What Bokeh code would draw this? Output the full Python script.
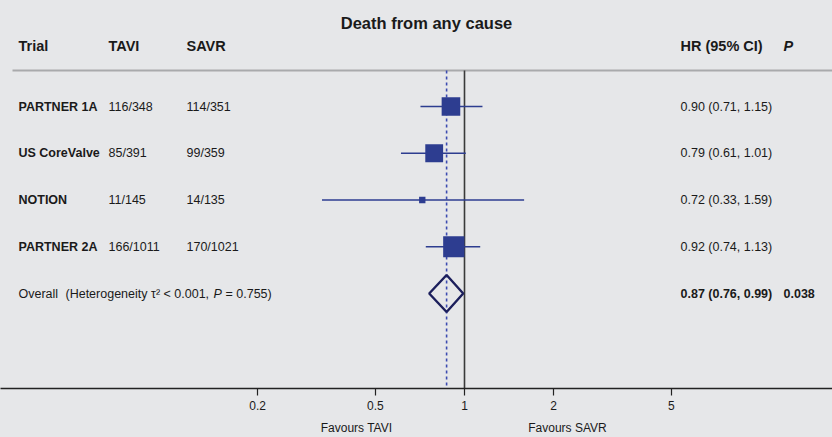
import math
from bokeh.plotting import figure
from bokeh.models import (Range1d, FixedTicker, LogAxis, Label, LabelSet,
                          ColumnDataSource)
from bokeh.core.properties import value
from bokeh.embed import file_html
from bokeh.resources import INLINE

# ---------------- data ----------------
title = "Death from any cause"
headers = ["Trial", "TAVI", "SAVR", "HR (95% CI)"]
p_header = "P"
trials = ["PARTNER 1A", "US CoreValve", "NOTION", "PARTNER 2A"]
tavi = ["116/348", "85/391", "11/145", "166/1011"]
savr = ["114/351", "99/359", "14/135", "170/1021"]
hr = [0.90, 0.79, 0.72, 0.92]
ci_lo = [0.71, 0.61, 0.33, 0.74]
ci_hi = [1.15, 1.01, 1.59, 1.13]
weights = [30.0, 27.5, 3.5, 39.0]          # % weight (square area)
overall_hr = 0.87
overall_lo = 0.76
overall_hi = 0.99
overall_p = "0.038"
het_tau = "τ² < 0.001"
het_p = "0.755"
tick_values = [0.2, 0.5, 1, 2, 5]
tick_labels = ["0.2", "0.5", "1", "2", "5"]
favours = ["Favours TAVI", "Favours SAVR"]

# ---------------- layout ----------------
W, H = 832, 437
FRAME_H = 388
NULL_PX = 464            # screen x of HR = 1
DECADE_PX = 296          # pixels per decade
ROW0_PX = 59.25          # frame y of row index 0
ROW_PX = 46.75           # row spacing


def px2x(px):
    return 10 ** ((px - NULL_PX) / DECADE_PX)


def py2y(py):
    return (py - ROW0_PX) / ROW_PX


BG = "#e6e7e9"
BLUE = "#2d3d90"
NAVY = "#1c1f5c"
TXT = "#1a1a1a"
FONT = "Liberation Sans"

p = figure(width=W, height=H, x_axis_type="log",
           x_range=Range1d(px2x(0), px2x(W)),
           y_range=Range1d(py2y(FRAME_H), py2y(0)),
           output_backend="svg", toolbar_location=None,
           min_border=0, min_border_bottom=H - FRAME_H,
           y_axis_location=None)
p.background_fill_color = BG
p.border_fill_color = BG
p.outline_line_color = None
p.xgrid.visible = False
p.ygrid.visible = False

rows = list(range(1, len(trials) + 1))
overall_row = len(trials) + 1
sep_y = py2y(70)

# separator under header
p.segment(x0=[px2x(12)], x1=[px2x(W)], y0=[sep_y], y1=[sep_y],
          line_color="#a9aaac", line_width=2)

# null line and overall dashed line
p.segment(x0=[1], x1=[1], y0=[sep_y], y1=[py2y(FRAME_H)],
          line_color="#3a3a3a", line_width=1.6)
p.segment(x0=[overall_hr], x1=[overall_hr], y0=[sep_y], y1=[py2y(FRAME_H)],
          line_color="#3b4bb0", line_width=1.6, line_dash="3 3")

# CIs and squares
p.segment(x0=ci_lo, x1=ci_hi, y0=rows, y1=rows, line_color=BLUE, line_width=1.6)
sizes = [3.4 * math.sqrt(w) for w in weights]
p.scatter(x=hr, y=rows, size=sizes, marker="square",
          fill_color=BLUE, line_color=None)

# overall diamond
dh = 18.5 / ROW_PX
p.patch(x=[overall_lo, overall_hr, overall_hi, overall_hr],
        y=[overall_row, overall_row - dh, overall_row, overall_row + dh],
        fill_alpha=0, line_color=NAVY, line_width=2.4)

# ---------------- texts ----------------
col_x = [18, 108, 186, 680]


def add_label(text, x, y, size, style="normal", align="left"):
    p.add_layout(Label(x=x, y=y, x_units="screen", y_units="data", text=text,
                       text_font=FONT, text_font_size=size,
                       text_font_style=style, text_color=TXT,
                       text_align=align, text_baseline="middle"))


add_label(title, 426, py2y(22), "16.5px", "bold", "center")
for h, cx in zip(headers, col_x):
    add_label(h, cx, py2y(45), "14.5px", "bold")
add_label(p_header, 783, py2y(45), "14.5px", "bold italic")

hr_txt = [f"{h:.2f} ({l:.2f}, {u:.2f})" for h, l, u in zip(hr, ci_lo, ci_hi)]
src = ColumnDataSource(dict(y=rows, trial=trials, tavi=tavi, savr=savr, hr=hr_txt,
                            x0=[col_x[0]] * 4, x1=[col_x[1]] * 4,
                            x2=[col_x[2]] * 4, x3=[col_x[3]] * 4))
for fld, xf, st in [("trial", "x0", "bold"), ("tavi", "x1", "normal"),
                    ("savr", "x2", "normal"), ("hr", "x3", "normal")]:
    p.add_layout(LabelSet(x=xf, y="y", text=fld, source=src,
                          x_units="screen", y_units="data",
                          text_font=value(FONT), text_font_size=value("12.5px"),
                          text_font_style=value(st), text_color=value(TXT),
                          text_baseline=value("middle"), text_align=value("left")))

# overall row
add_label("Overall", 18, overall_row, "12.5px")
add_label(f"(Heterogeneity {het_tau}, ", 65, overall_row, "12.5px")
add_label("P", 213, overall_row, "12.5px", "italic")
add_label(f"= {het_p})", 225, overall_row, "12.5px")
add_label(f"{overall_hr:.2f} ({overall_lo:.2f}, {overall_hi:.2f})",
          col_x[3], overall_row, "12.5px", "bold")
add_label(overall_p, 783, overall_row, "12.5px", "bold")

# ---------------- axes ----------------
ax = p.xaxis[0]
ax.ticker = FixedTicker(ticks=tick_values)
ax.major_label_overrides = {float(t): l for t, l in zip(tick_values, tick_labels)}
ax.minor_tick_line_color = None
ax.major_tick_in = 0
ax.major_tick_out = 7
ax.axis_line_color = "#222222"
ax.axis_line_width = 1.6
ax.major_tick_line_color = "#222222"
ax.major_tick_line_width = 1.2
ax.major_label_text_font = FONT
ax.major_label_text_font_size = "12px"
ax.major_label_text_color = TXT
ax.major_label_standoff = 5

fav_pos = [round(px2x(356), 4), round(px2x(567), 4)]
ax2 = LogAxis(ticker=FixedTicker(ticks=fav_pos),
              major_label_overrides={fav_pos[0]: favours[0], fav_pos[1]: favours[1]},
              axis_line_color=None, major_tick_line_color=None,
              minor_tick_line_color=None, major_tick_in=0, major_tick_out=0,
              major_label_standoff=8, major_label_text_font=FONT,
              major_label_text_font_size="12px", major_label_text_color=TXT)
p.add_layout(ax2, "below")

html = file_html(p, INLINE)
html = html.replace("<head>", "<head><style>html,body{background:#e6e7e9;}</style>", 1)
open("out.html", "w").write(html)
